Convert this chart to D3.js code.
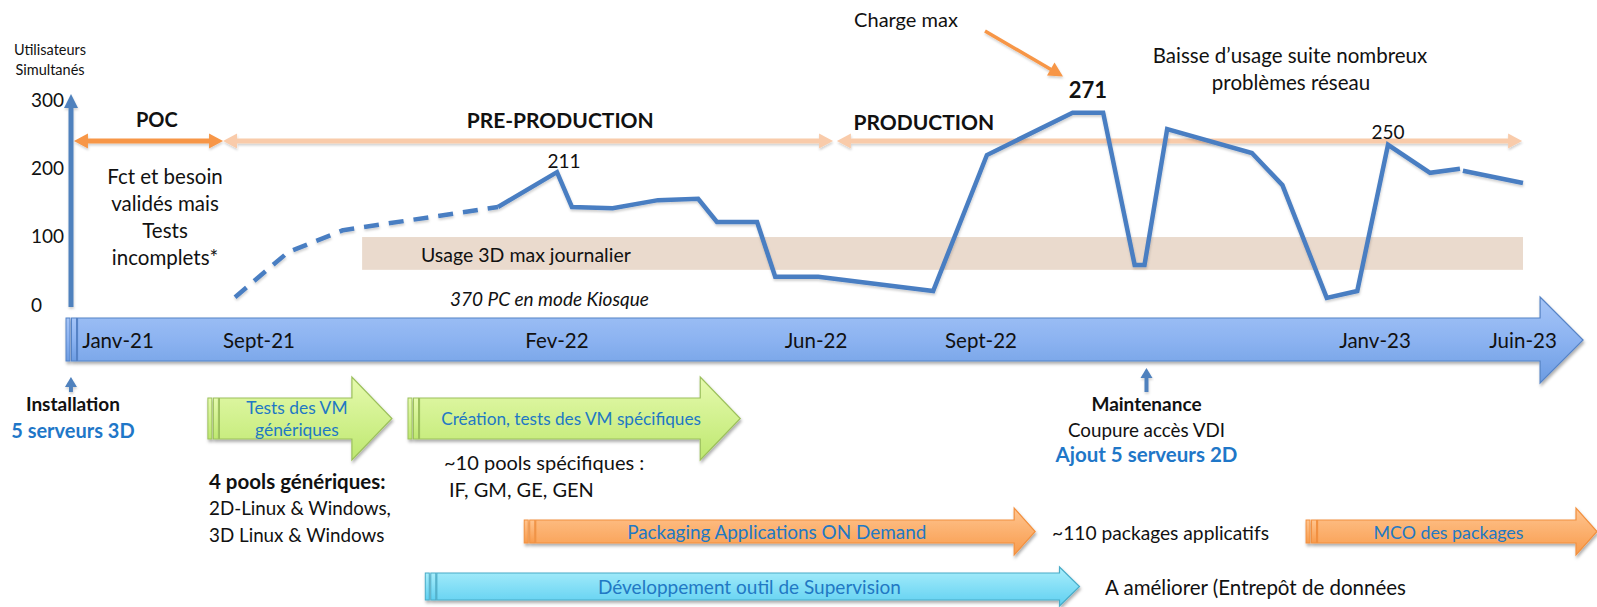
<!DOCTYPE html>
<html><head><meta charset="utf-8">
<script src="https://cdn.jsdelivr.net/npm/d3@7"></script>
<style>
body{margin:0;background:#fff;}
svg{display:block;font-family:Lato,'Open Sans',sans-serif;}
</style>
</head><body>
<svg id="c" width="1597" height="607"></svg>
<script>
// ---------------- DATA ----------------
const xTickLabels = ['Janv-21','Sept-21','Fev-22','Jun-22','Sept-22','Janv-23','Juin-23'];
const xTickMonths = [0, 8, 13, 17, 20, 24, 29];          // months since Jan 2021
const yTicks = [0, 100, 200, 300];

const dashedMonths = [6.64, 8.49, 9.41, 12.01];
const dashedUsers  = [10, 76, 108, 142];
const solidMonths  = [12.01, 13.0, 13.23, 13.86, 14.56, 15.18, 15.47, 16.09, 16.37, 17.04, 19.13, 20.06, 20.93, 21.24, 21.56, 21.66, 21.89, 22.75, 23.06, 23.51, 23.82, 24.44, 25.86, 26.87];
const solidUsers   = [142, 193, 142, 140, 152, 154, 120, 120, 40, 40, 19, 218, 280, 280, 57, 57, 256, 221, 174, 9, 19, 233, 192, 198];
const tailMonths   = [26.97, 29.0];
const tailUsers    = [195, 177];

const peakLabels = ['211', '271', '250'];
const peakMonths = [13.0, 21.085, 24.44];
const peakUsers  = [193, 280, 233];

const bandUsers  = [50, 98];
const bandMonths = [9.73, 29.0];
const bandLabel  = 'Usage 3D max journalier';

const phaseNames      = ['POC', 'PRE-PRODUCTION', 'PRODUCTION'];
const phaseStart      = [-2.5, 5.96, 17.38];
const phaseEnd        = [5.96, 17.31, 28.97];
const phaseLabelMonth = [2.2, 13.05, 18.96];

const taskNames = [['Tests des VM','génériques'], ['Création, tests des VM spécifiques'], ['Packaging Applications ON Demand'], ['MCO des packages'], ['Développement outil de Supervision']];
const taskStart = [5.1, 10.5, 12.45, 23.3, 10.79];
const taskEnd   = [10.23, 15.83, 20.55, 31.5, 21.0];
const taskKind  = ['green', 'green', 'orange', 'orange', 'cyan'];

const eventMonths = [-2.67, 21.68];
const timelineSpan = [-2.95, 31.03];

// ---------------- SCALES ----------------
const svg = d3.select('#c');
const x = d3.scaleLinear().domain(xTickMonths).range([118, 259, 557, 816, 981, 1375, 1523]);
const y = d3.scaleLinear().domain([0, 300]).range([304, 99]);

const defs = svg.append('defs');
const sh = defs.append('filter').attr('id','sh').attr('x','-10%').attr('y','-40%').attr('width','120%').attr('height','200%');
sh.append('feDropShadow').attr('dx',1).attr('dy',2.5).attr('stdDeviation',1.8).attr('flood-color','#000').attr('flood-opacity',0.32);
const shl = defs.append('filter').attr('id','shl').attr('x','-10%').attr('y','-40%').attr('width','120%').attr('height','200%');
shl.append('feDropShadow').attr('dx',0.5).attr('dy',2).attr('stdDeviation',1.2).attr('flood-color','#000').attr('flood-opacity',0.18);
function grad(id, stops){
  const g = defs.append('linearGradient').attr('id',id).attr('x1',0).attr('y1',0).attr('x2',0).attr('y2',1);
  stops.forEach(([o,c]) => g.append('stop').attr('offset',o).attr('stop-color',c));
}
grad('gBlue',   [[0,'#A6C5F7'],[0.5,'#8CB3F1'],[1,'#6C9CE2']]);
grad('gGreen',  [[0,'#E6FAAE'],[1,'#BEE870']]);
grad('gOrange', [[0,'#FFC590'],[1,'#F89B4C']]);
grad('gCyan',   [[0,'#AAEEFB'],[1,'#5FD0F1']]);

const styles = {
  green:  {fill:'url(#gGreen)',  stroke:'#9CC05C', head:40, body:[398,439], hh:[377,460]},
  orange: {fill:'url(#gOrange)', stroke:'#F2903F', head:21, body:[520,543], hh:[508,555]},
  cyan:   {fill:'url(#gCyan)',   stroke:'#49ACC8', head:20, body:[573,600], hh:[567,606]},
  blue:   {fill:'url(#gBlue)',   stroke:'#5583C6', head:43, body:[318,361], hh:[297,383]}
};

function stripedArrow(g, x0, tip, st){
  const [bt, bb] = st.body, [ht, hb] = st.hh;
  const base = tip - st.head, mid = (ht + hb) / 2, bx = x0 + 11.5;
  const gg = g.append('g').attr('filter','url(#sh)');
  gg.append('rect').attr('x',x0).attr('y',bt).attr('width',4).attr('height',bb-bt).attr('fill',st.fill).attr('stroke',st.stroke).attr('stroke-width',1);
  gg.append('rect').attr('x',x0+5.5).attr('y',bt).attr('width',5).attr('height',bb-bt).attr('fill',st.fill).attr('stroke',st.stroke).attr('stroke-width',1);
  gg.append('path').attr('d',`M${bx},${bt}H${base}V${ht}L${tip},${mid}L${base},${hb}V${bb}H${bx}Z`)
    .attr('fill',st.fill).attr('stroke',st.stroke).attr('stroke-width',1.2).attr('stroke-linejoin','miter');
}

function txt(g, str, xx, yy, opt){
  opt = opt || {};
  return g.append('text').attr('x',xx).attr('y',yy).attr('dominant-baseline','central')
    .attr('text-anchor',opt.anchor||'middle').attr('font-size',opt.size||18)
    .attr('font-weight',opt.bold?'bold':'normal').attr('font-style',opt.italic?'italic':'normal')
    .attr('fill',opt.color||'#111').text(str);
}

// ---------------- BAND ----------------
svg.append('rect')
  .attr('x', x(bandMonths[0])).attr('width', x(bandMonths[1]) - x(bandMonths[0]))
  .attr('y', y(bandUsers[1])).attr('height', y(bandUsers[0]) - y(bandUsers[1]))
  .attr('fill','#EADACD');
txt(svg, bandLabel, 421, 254, {size:19.5, anchor:'start'});
txt(svg, '370 PC en mode Kiosque', 450, 298, {size:19, italic:true, anchor:'start'});

// ---------------- PHASE ARROWS ----------------
const phaseY = 141;
const pg = svg.append('g').attr('filter','url(#shl)');
phaseNames.forEach((n, i) => {
  const col = i === 0 ? '#F79646' : '#F9CBAA';
  const x1 = x(phaseStart[i]), x2 = x(phaseEnd[i]), hl = 14, hw = 7.5;
  pg.append('line').attr('x1', x1 + hl - 2).attr('x2', x2 - hl + 2).attr('y1', phaseY).attr('y2', phaseY)
    .attr('stroke', col).attr('stroke-width', 5);
  pg.append('path').attr('d', `M${x1},${phaseY}L${x1+hl},${phaseY-hw}L${x1+hl},${phaseY+hw}Z`).attr('fill', col);
  pg.append('path').attr('d', `M${x2},${phaseY}L${x2-hl},${phaseY-hw}L${x2-hl},${phaseY+hw}Z`).attr('fill', col);
  txt(svg, n, x(phaseLabelMonth[i]), i === 2 ? 121 : 119, {size: i === 0 ? 20 : 21, bold:true});
});

// ---------------- Y AXIS ----------------
const ax = svg.append('g').attr('filter','url(#shl)');
ax.append('line').attr('x1',71).attr('x2',71).attr('y1',307).attr('y2',106).attr('stroke','#4F81BD').attr('stroke-width',5);
ax.append('path').attr('d','M71,94L78,108L64,108Z').attr('fill','#4F81BD');
yTicks.forEach(t => txt(svg, t, 31, y(t), {size:19, anchor:'start'}));
txt(svg, 'Utilisateurs', 50, 49, {size:14.5});
txt(svg, 'Simultanés', 50, 69, {size:14.5});

// ---------------- POC TEXT ----------------
['Fct et besoin','validés mais','Tests','incomplets*'].forEach((s, i) => txt(svg, s, 165, 176 + i * 27, {size:20.5}));

// ---------------- TIMELINE ----------------
stripedArrow(svg, x(timelineSpan[0]), x(timelineSpan[1]), styles.blue);
xTickLabels.forEach((l, i) => txt(svg, l, x(xTickMonths[i]), 340, {size:20.5}));

// ---------------- LINE ----------------
const line = d3.line().x(d => x(d[0])).y(d => y(d[1]));
const lg = svg.append('g').attr('filter','url(#shl)');
lg.append('path').datum(d3.zip(dashedMonths, dashedUsers)).attr('d', line)
  .attr('fill','none').attr('stroke','#4A7EC2').attr('stroke-width',4.5).attr('stroke-dasharray','15,10').attr('stroke-linejoin','round');
lg.append('path').datum(d3.zip(solidMonths, solidUsers)).attr('d', line)
  .attr('fill','none').attr('stroke','#4A7EC2').attr('stroke-width',4.5).attr('stroke-linejoin','miter');
lg.append('path').datum(d3.zip(tailMonths, tailUsers)).attr('d', line)
  .attr('fill','none').attr('stroke','#4A7EC2').attr('stroke-width',4.5);

// peak labels
const peakDx = [7, 0, 0], peakDy = [-12, -23, -13];
peakLabels.forEach((l, i) => txt(svg, l, x(peakMonths[i]) + peakDx[i], y(peakUsers[i]) + peakDy[i], {size: i === 1 ? 22 : 19, bold: i === 1}));

// ---------------- TOP ANNOTATIONS ----------------
txt(svg, 'Charge max', 906, 19, {size:20});
const ca = svg.append('g').attr('filter','url(#shl)');
ca.append('line').attr('x1',985).attr('y1',31).attr('x2',1051).attr('y2',69.5).attr('stroke','#F79646').attr('stroke-width',3.5);
ca.append('path').attr('d','M1063,76.5L1047,75.5L1054.5,62.5Z').attr('fill','#F79646');
txt(svg, 'Baisse d\u2019usage suite nombreux', 1290, 55, {size:20.5});
txt(svg, 'problèmes réseau', 1291, 82, {size:20.5});

// ---------------- EVENTS ----------------
const eventTop = [377, 368];
eventMonths.forEach((m, i) => {
  const ex = x(m);
  const eg = svg.append('g').attr('filter','url(#shl)');
  eg.append('rect').attr('x', ex - 2).attr('y', eventTop[i] + 9).attr('width', 4).attr('height', 392 - eventTop[i] - 9).attr('fill', '#4F81BD');
  eg.append('path').attr('d', `M${ex},${eventTop[i]}L${ex+6},${eventTop[i]+10}L${ex-6},${eventTop[i]+10}Z`).attr('fill', '#4F81BD');
});
txt(svg, 'Installation', x(eventMonths[0]) + 2, 403, {size:19, bold:true});
txt(svg, '5 serveurs 3D', x(eventMonths[0]) + 2, 430, {size:20, bold:true, color:'#1F77C8'});
txt(svg, 'Maintenance', x(eventMonths[1]), 403, {size:19, bold:true});
txt(svg, 'Coupure accès VDI', x(eventMonths[1]), 429, {size:18.8});
txt(svg, 'Ajout 5 serveurs 2D', x(eventMonths[1]), 454, {size:20.5, bold:true, color:'#1F77C8'});

// ---------------- TASK ARROWS ----------------
const taskSize = [17.4, 17.2, 18.9, 17.8, 19];
taskNames.forEach((lines, i) => {
  const st = styles[taskKind[i]];
  const x0 = x(taskStart[i]), x1 = x(taskEnd[i]);
  stripedArrow(svg, x0, x1, st);
  const cx = (x0 + x1) / 2 - 3, cy = (st.body[0] + st.body[1]) / 2;
  lines.forEach((s, j) => txt(svg, s, cx, cy + (j - (lines.length - 1) / 2) * 22, {size:taskSize[i], color:'#2178C4'}));
});

// ---------------- SIDE NOTES ----------------
txt(svg, '4 pools génériques:', 209, 481, {size:20.5, bold:true, anchor:'start'});
txt(svg, '2D-Linux & Windows,', 209, 507, {size:18.8, anchor:'start'});
txt(svg, '3D Linux & Windows', 209, 534, {size:18.8, anchor:'start'});
txt(svg, '~10 pools spécifiques :', 444, 462, {size:20, anchor:'start'});
txt(svg, 'IF, GM, GE, GEN', 449, 489, {size:20, anchor:'start'});
txt(svg, '~110 packages applicatifs', 1052, 532, {size:19.2, anchor:'start'});
txt(svg, 'A améliorer (Entrepôt de données', 1105, 587, {size:20.5, anchor:'start'});
</script>
</body></html>
